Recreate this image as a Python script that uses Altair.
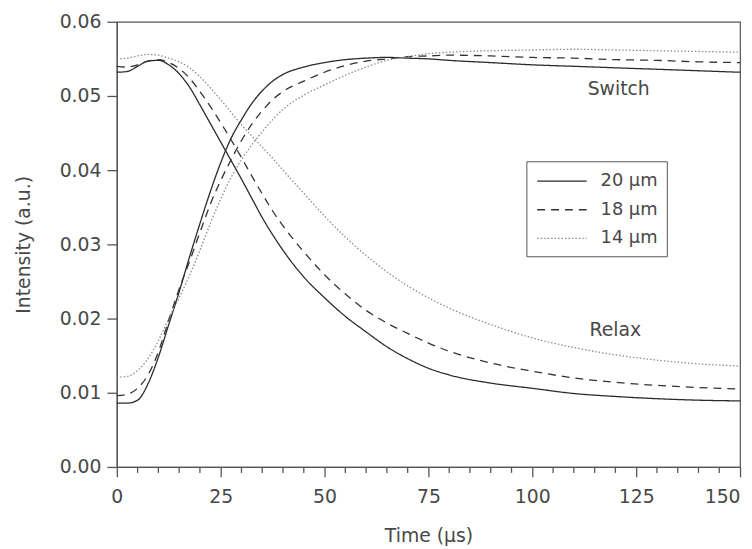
import altair as alt
import pandas as pd

# ---- data ----
time_us = [0, 2.5, 5, 7.5, 10, 12.5, 15, 17.5, 20, 22.5, 25, 27.5, 30, 32.5, 35, 37.5,
           40, 45, 50, 55, 60, 65, 70, 75, 80, 90, 100, 110, 120, 130, 140, 150]

relax_20 = [0.0532, 0.0533, 0.0540, 0.0547, 0.0548, 0.0542, 0.0530, 0.0512, 0.0488, 0.0463,
            0.0438, 0.0413, 0.0388, 0.0362, 0.0336, 0.0313, 0.0292, 0.0256, 0.0228, 0.0203,
            0.0182, 0.0162, 0.0146, 0.0133, 0.0124, 0.0113, 0.0106, 0.0099, 0.0095, 0.0092,
            0.0090, 0.0089]
relax_18 = [0.0540, 0.0539, 0.0542, 0.0547, 0.0549, 0.0545, 0.0537, 0.0524, 0.0506, 0.0486,
            0.0464, 0.0441, 0.0417, 0.0392, 0.0368, 0.0345, 0.0325, 0.0290, 0.0259, 0.0233,
            0.0211, 0.0194, 0.0180, 0.0167, 0.0156, 0.0140, 0.0129, 0.0120, 0.0114, 0.0110,
            0.0107, 0.0105]
relax_14 = [0.0550, 0.0551, 0.0554, 0.0556, 0.0555, 0.0551, 0.0546, 0.0538, 0.0526, 0.0511,
            0.0495, 0.0478, 0.0461, 0.0446, 0.0431, 0.0416, 0.0400, 0.0369, 0.0338, 0.0310,
            0.0285, 0.0263, 0.0244, 0.0228, 0.0214, 0.0192, 0.0174, 0.0161, 0.0151, 0.0144,
            0.0139, 0.0136]
switch_20 = [0.0086, 0.0086, 0.0090, 0.0112, 0.0148, 0.0192, 0.0236, 0.0283, 0.0328, 0.0371,
             0.0410, 0.0443, 0.0468, 0.0490, 0.0507, 0.0520, 0.0529, 0.0539, 0.0545, 0.0549,
             0.0551, 0.0552, 0.0551, 0.0550, 0.0548, 0.0545, 0.0542, 0.0540, 0.0538, 0.0536,
             0.0534, 0.0532]
switch_18 = [0.0096, 0.0098, 0.0106, 0.0124, 0.0155, 0.0198, 0.0240, 0.0277, 0.0316, 0.0354,
             0.0386, 0.0414, 0.0440, 0.0462, 0.0480, 0.0495, 0.0506, 0.0520, 0.0532, 0.0541,
             0.0547, 0.0550, 0.0553, 0.0554, 0.0555, 0.0554, 0.0552, 0.0551, 0.0549, 0.0548,
             0.0546, 0.0545]
switch_14 = [0.0121, 0.0122, 0.0130, 0.0146, 0.0170, 0.0200, 0.0228, 0.0258, 0.0292, 0.0328,
             0.0361, 0.0390, 0.0414, 0.0434, 0.0452, 0.0468, 0.0482, 0.0501, 0.0515, 0.0528,
             0.0539, 0.0548, 0.0553, 0.0557, 0.0559, 0.0561, 0.0562, 0.0563, 0.0562, 0.0561,
             0.0560, 0.0559]

thickness = ["20 μm", "18 μm", "14 μm"]
x_major = [0, 25, 50, 75, 100, 125, 150]
x_minor = [t for t in range(0, 151, 5) if t % 25 != 0]
y_ticks = [0.0, 0.01, 0.02, 0.03, 0.04, 0.05, 0.06]

note_labels = ["Switch", "Relax"]
note_t = [120.8, 120.0]
note_v = [0.0509, 0.0185]

series = [
    ("20 μm", "Relax", relax_20), ("18 μm", "Relax", relax_18), ("14 μm", "Relax", relax_14),
    ("20 μm", "Switch", switch_20), ("18 μm", "Switch", switch_18), ("14 μm", "Switch", switch_14),
]
rows = []
for th, kind, vals in series:
    for t, v in zip(time_us, vals):
        rows.append({"t": t, "v": v, "thickness": th, "kind": kind})
df = pd.DataFrame(rows)
notes = pd.DataFrame({"t": note_t, "v": note_v, "label": note_labels})
minor = pd.DataFrame({"t": x_minor})

FONT = "DejaVu Sans"
TXT = "#484848"
AX = "#555555"

x_scale = alt.Scale(domain=[0, 150], nice=False, zero=False)
y_scale = alt.Scale(domain=[0, 0.06], nice=False)

legend = alt.Legend(
    title=None, orient="none", legendX=414, legendY=141,
    symbolType="M-2.5,0H2.5", symbolSize=400, symbolStrokeWidth=1.3,
    symbolFillColor="transparent", symbolOffset=16,
    labelFont=FONT, labelFontSize=18, labelColor=TXT, labelOffset=28,
    padding=9, strokeColor=AX, fillColor="white", rowPadding=9,
)

lines = alt.Chart(df).mark_line(interpolate="monotone", strokeWidth=1.3).encode(
    x=alt.X("t:Q", scale=x_scale, title="Time (μs)",
            axis=alt.Axis(values=x_major, ticks=True, tickSize=10, tickColor=AX,
                          tickWidth=1.3, labelPadding=11,
                          labelAlign={"condition": {"test": "datum.value === 150", "value": "right"},
                                      "value": "center"},
                          titlePadding=20)),
    y=alt.Y("v:Q", scale=y_scale, title="Intensity (a.u.)",
            axis=alt.Axis(values=y_ticks, format=".2f", ticks=True, tickSize=10,
                          tickColor=AX, tickWidth=1.3, labelPadding=6, titlePadding=26)),
    color=alt.Color("thickness:N", scale=alt.Scale(domain=thickness,
                                                   range=["#2a2a2a", "#333333", "#8c8c8c"]),
                    legend=legend),
    strokeDash=alt.StrokeDash("thickness:N", scale=alt.Scale(domain=thickness,
                                                             range=[[1, 0], [8, 6], [1.5, 2]]),
                              legend=legend),
    detail="kind:N",
)

minor_ticks = alt.Chart(minor).mark_rule(color=AX, strokeWidth=1.3).encode(
    x=alt.X("t:Q", scale=x_scale),
    y=alt.value(450), y2=alt.value(456),
)

text = alt.Chart(notes).mark_text(font=FONT, fontSize=19, color=TXT).encode(
    x=alt.X("t:Q", scale=x_scale),
    y=alt.Y("v:Q", scale=y_scale),
    text="label:N",
)

chart = alt.layer(lines, minor_ticks, text).properties(
    width=630, height=450,
    autosize=alt.AutoSizeParams(type="none"),
    padding={"left": 110, "top": 11, "right": 4, "bottom": 80},
).configure_view(stroke=AX, strokeWidth=1.2).configure_axis(
    labelFont=FONT, labelFontSize=19, labelColor=TXT,
    titleFont=FONT, titleFontSize=19, titleColor=TXT, titleFontWeight="normal",
    domainColor=AX, domainWidth=1.2, grid=False,
)

chart.save("out.html", embed_options={"renderer": "svg", "actions": False})
